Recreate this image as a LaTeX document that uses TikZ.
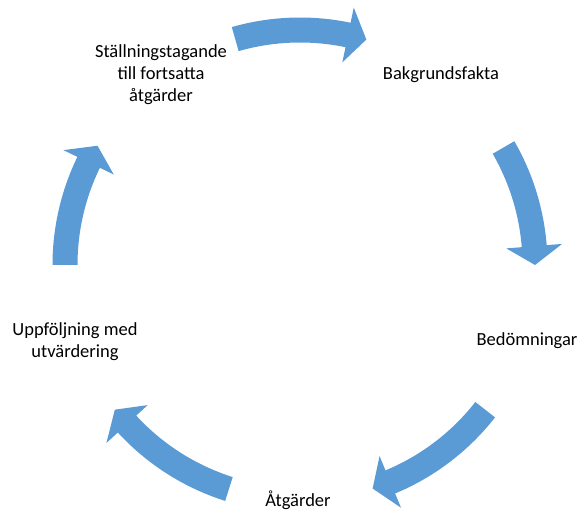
\documentclass[tikz,border=0pt]{standalone}
\usepackage{fontspec}
\setmainfont{Carlito}
\definecolor{cycblue}{HTML}{5B9BD5}
\tikzset{
  arrowfill/.style={fill=cycblue},
  lbl/.style={align=center, inner sep=0pt, font=\fontsize{18.5}{22}\selectfont, text=black}
}
\newcommand{\cycarrow}[2]{%
  \pgfmathsetmacro\cycab{#2+4.6}%
  \fill[arrowfill]
    ([shift={(C)}]#1:247.5pt) arc[start angle=#1, end angle=\cycab, radius=247.5pt]
    -- ([shift={(C)}]\cycab:263pt)
    -- ([shift={(C)}]#2:235pt)
    -- ([shift={(C)}]\cycab:207pt)
    -- ([shift={(C)}]\cycab:222.5pt)
    arc[start angle=\cycab, end angle=#1, radius=222.5pt]
    -- cycle;
}
\begin{document}
\begin{tikzpicture}[x=1pt,y=1pt]
\useasboundingbox (0,0) rectangle (578,512);
\coordinate (C) at (300,247);
% arrows (clockwise)
\cycarrow{106}{73.6}
\cycarrow{30}{0}
\cycarrow{-38}{-72}
\cycarrow{-107.6}{-142}
\cycarrow{180}{149.5}
% labels
\node[lbl] (stall) at (161,437) {Ställningstagande\\till fortsatta\\åtgärder};
\node[lbl] (bakg) at (441,437) {Bakgrundsfakta};
\node[lbl] (bedom) at (527,171) {Bedömningar};
\node[lbl] (atg) at (298,11.5) {Åtgärder};
\node[lbl] (uppf) at (75,170) {Uppföljning med\\utvärdering};
\end{tikzpicture}
\end{document}
